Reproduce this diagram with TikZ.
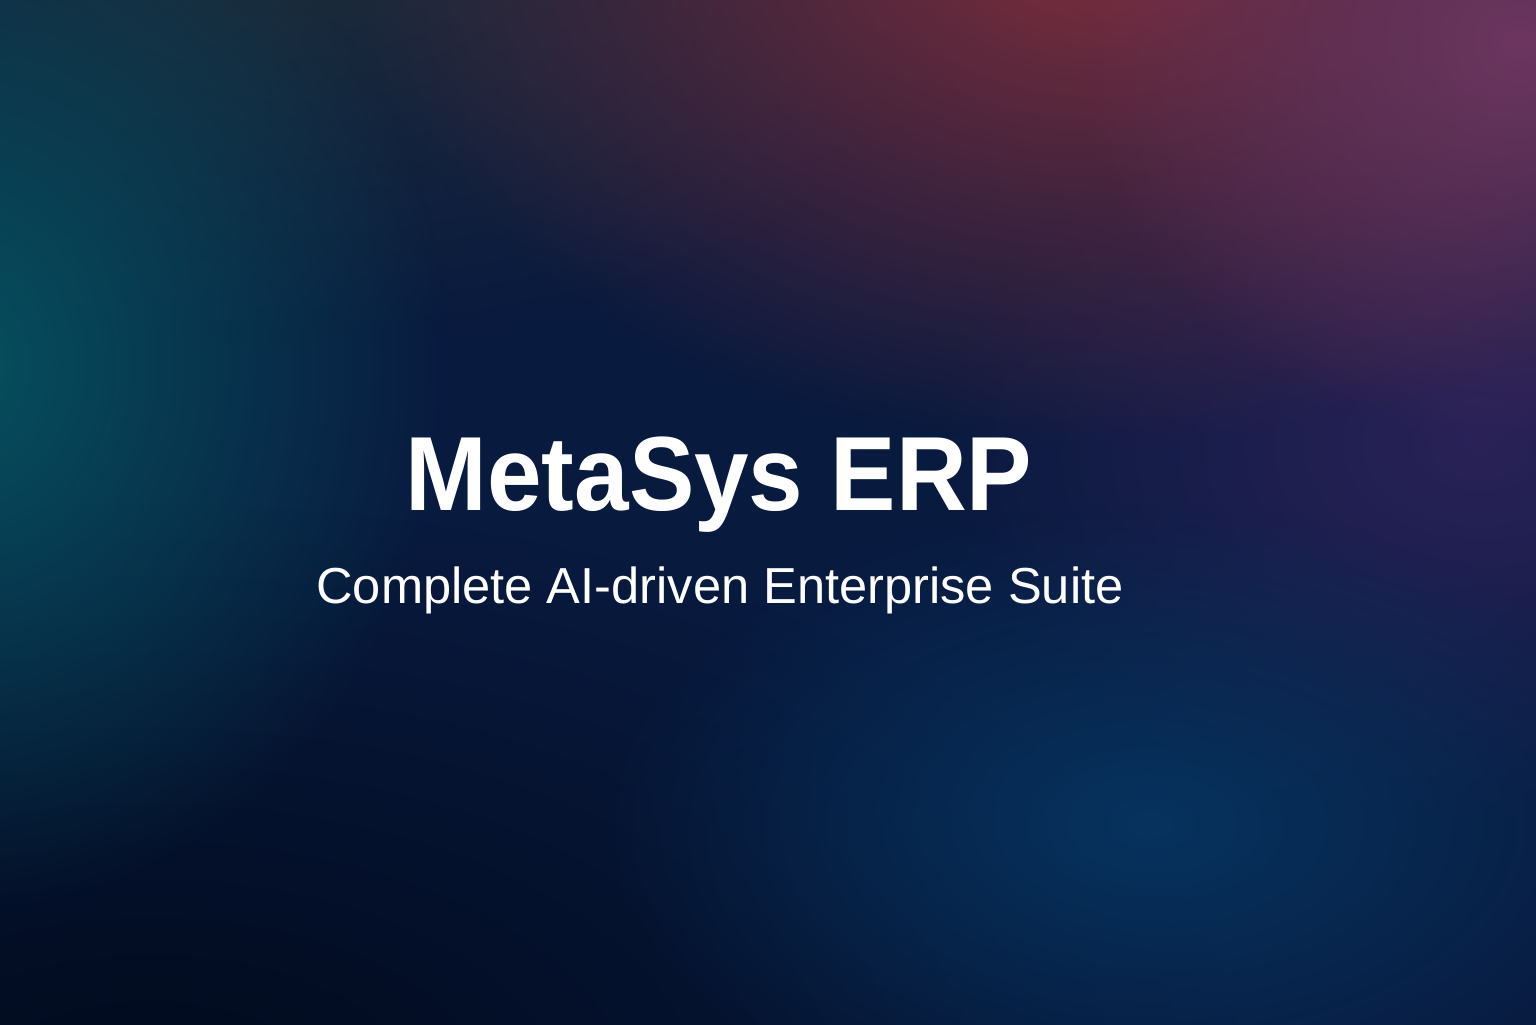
\documentclass[tikz,border=0pt]{standalone}
\usepackage{fontspec}
\setmainfont{Liberation Sans}
\newfontfamily\titlefont[FakeStretch=0.93]{Liberation Sans}
\usetikzlibrary{positioning,fadings}

\definecolor{navy}{HTML}{091A3F}
\definecolor{deepnavy}{HTML}{010A1C}
\definecolor{slateglow}{HTML}{1E2C3A}
\definecolor{tealglow}{HTML}{06525F}
\definecolor{wineglow}{HTML}{7E2E3C}
\definecolor{plumglow}{HTML}{6C3660}
\definecolor{indigoglow}{HTML}{2A2258}
\definecolor{blueglow}{HTML}{06335E}

\tikzfading[name=glowfade, inner color=transparent!0, outer color=transparent!100]

\begin{document}
\begin{tikzpicture}[
  glow/.style={fill=#1, path fading=glowfade},
  headline/.style={text=white, font=\titlefont\fontsize{30}{36}\selectfont\bfseries, anchor=base},
  tagline/.style={text=white, font=\fontsize{14.4}{17}\selectfont, anchor=base}]
\useasboundingbox (0,0) rectangle (15.36,10.24);
% background
\fill[navy] (-0.2,-0.2) rectangle (15.56,10.44);
\fill[glow=deepnavy] (1.5,-0.8) ellipse (11 and 6);
\fill[glow=slateglow] (3,10.8) ellipse (7 and 4);
\fill[glow=tealglow] (-0.5,6.6) ellipse (5 and 5.5);
\fill[glow=indigoglow] (14.8,5.8) ellipse (5.5 and 3.8);
\fill[glow=wineglow] (11,10.8) ellipse (7.5 and 5);
\fill[glow=plumglow] (15.2,9.8) ellipse (4.5 and 4);
\fill[glow=blueglow] (11.5,2.0) ellipse (5.5 and 3.2);
% texts
\node[headline] (title) at (7.19,5.14) {MetaSys ERP};
\node[tagline] (subtitle) at ([xshift=0.01cm,yshift=-0.93cm]title.base) {Complete AI-driven Enterprise Suite};
\end{tikzpicture}
\end{document}
